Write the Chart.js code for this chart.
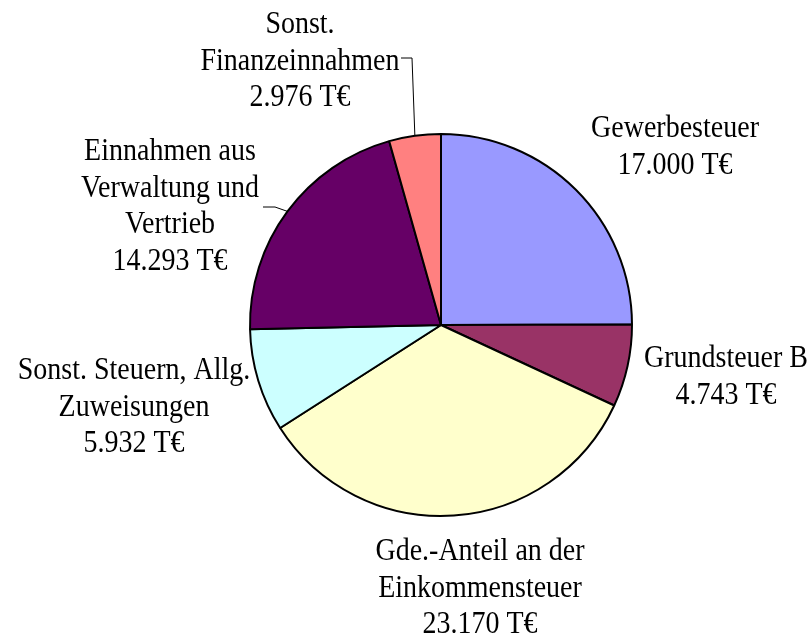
<!DOCTYPE html>
<html>
<head>
<meta charset="utf-8">
<script src="https://cdn.jsdelivr.net/npm/chart.js@4"></script>
<style>
  html, body { margin: 0; padding: 0; background: #fff; }
  #wrap { width: 809px; height: 633px; }
</style>
</head>
<body>
<div id="wrap"><canvas id="pie"></canvas></div>
<script>
// data (T€), clockwise from 12 o'clock
const categories = [
  ['Gewerbesteuer'],
  ['Grundsteuer B'],
  ['Gde.-Anteil an der', 'Einkommensteuer'],
  ['Sonst. Steuern, Allg.', 'Zuweisungen'],
  ['Einnahmen aus', 'Verwaltung und', 'Vertrieb'],
  ['Sonst.', 'Finanzeinnahmen']
];
const values = [17000, 4743, 23170, 5932, 14293, 2976];
const valueLabels = ['17.000 T€', '4.743 T€', '23.170 T€', '5.932 T€', '14.293 T€', '2.976 T€'];
const colors = ['#9999FF', '#993366', '#FFFFCC', '#CCFFFF', '#660066', '#FF8080'];

// label placement (center x, first baseline) and optional leader line (elbow, text end)
const labelPos = [
  { x: 675, y: 137 },
  { x: 726, y: 367 },
  { x: 480, y: 560 },
  { x: 134, y: 379 },
  { x: 170, y: 160, elbow: [275, 207], end: [263, 207] },
  { x: 300, y: 33, elbow: [412, 58], end: [401, 58] }
];
const lineHeight = 36.5;

// draws the outside labels like the old Excel chart
const outsideLabels = {
  id: 'outsideLabels',
  afterDatasetsDraw(chart) {
    const ctx = chart.ctx;
    const arcs = chart.getDatasetMeta(0).data;
    ctx.save();
    ctx.fillStyle = '#000';
    ctx.strokeStyle = '#000';
    ctx.lineWidth = 1;
    ctx.font = '28px "Liberation Serif", "Times New Roman", serif';
    ctx.textAlign = 'center';
    ctx.textBaseline = 'alphabetic';
    labelPos.forEach((p, i) => {
      const lines = categories[i].concat([valueLabels[i]]);
      lines.forEach((t, k) => {
        ctx.save();
        ctx.translate(p.x, p.y + k * lineHeight);
        ctx.scale(1, 1.1);
        ctx.fillText(t, 0, 0);
        ctx.restore();
      });
      if (p.elbow) {
        const a = arcs[i];
        const mid = (a.startAngle + a.endAngle) / 2;
        const ax = a.x + Math.cos(mid) * a.outerRadius;
        const ay = a.y + Math.sin(mid) * a.outerRadius;
        ctx.beginPath();
        ctx.moveTo(ax, ay);
        ctx.lineTo(p.elbow[0], p.elbow[1]);
        ctx.lineTo(p.end[0], p.end[1]);
        ctx.stroke();
      }
    });
    ctx.restore();
  }
};

new Chart(document.getElementById('pie'), {
  type: 'pie',
  data: {
    labels: categories.map(c => c.join(' ')),
    datasets: [{
      data: values,
      backgroundColor: colors,
      borderColor: '#000',
      borderWidth: 2
    }]
  },
  options: {
    responsive: true,
    maintainAspectRatio: false,
    animation: false,
    radius: 191,
    layout: { padding: { left: 73, right: 0, top: 17, bottom: 0 } },
    plugins: {
      legend: { display: false },
      tooltip: { enabled: false }
    }
  },
  plugins: [outsideLabels]
});
</script>
</body>
</html>
